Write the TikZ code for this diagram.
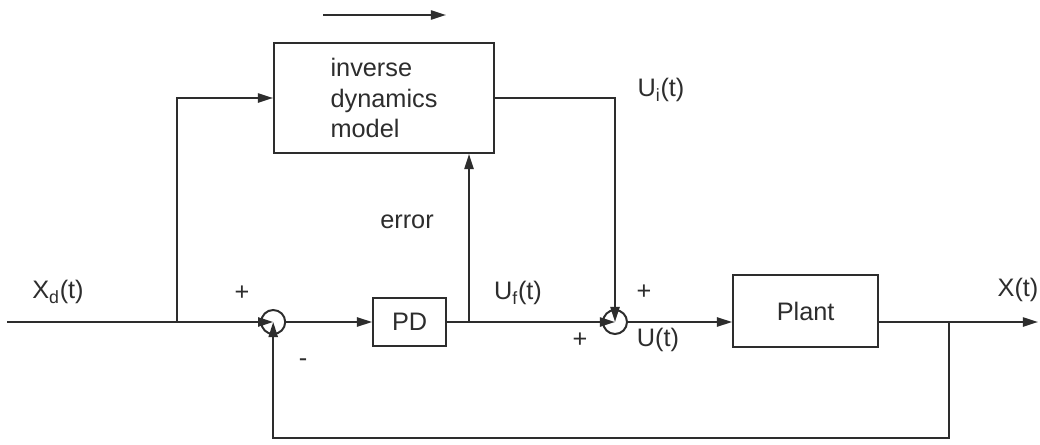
\documentclass[tikz,border=0pt]{standalone}
\usepackage{fontspec}
\setmainfont{Liberation Sans}
\usetikzlibrary{arrows.meta,calc}
\definecolor{inkgray}{RGB}{45,45,45}

\begin{document}
\begin{tikzpicture}[
  x=1cm,y=1cm,
  every node/.style={font=\fontsize{18}{22}\selectfont,text=inkgray},
  block/.style={draw=inkgray,line width=1.4pt,inner sep=0pt},
  junction/.style={circle,draw=inkgray,line width=1.4pt,minimum size=.6cm,inner sep=0pt},
  wire/.style={line width=1.4pt,inkgray},
  signal/.style={wire,-{Triangle[length=3.8mm,width=2.3mm]}}
]
\path[use as bounding box] (0,0) rectangle (26,11.1);
\fill[white] (0,0) rectangle (26,11.1);

% Blocks and summing junctions.
\node[block,minimum width=5.5cm,minimum height=2.75cm,align=left] (idm) at (9.6,8.65) {inverse\\dynamics\\model};
\node[block,minimum width=1.825cm,minimum height=1.2cm] (pd) at (10.24,3.05) {PD};
\node[block,minimum width=3.625cm,minimum height=1.8cm] (plant) at (20.14,3.325) {Plant};
\node[junction] (sum1) at (6.83,3.05) {};
\node[junction] (sum2) at (15.375,3.05) {};

% Branch points and free ends on the main line.
\coordinate (xin) at (.175,3.05);
\coordinate (xsplit) at (4.425,3.05);
\coordinate (usplit) at (11.725,3.05);
\coordinate (ysplit) at (23.725,3.05);
\coordinate (xout) at (25.95,3.05);
\coordinate (fb) at (23.725,.15);
\coordinate (flowa) at (8.075,10.725);
\coordinate (flowb) at (11.15,10.725);

% Forward path.
\draw[wire] (xin)--(xsplit);
\draw[signal] (xsplit)--(sum1.center);
\draw[signal] (sum1.east)--(pd.west);
\draw[signal] (pd.east)--(sum2.center);
\draw[signal] (sum2.east)--(sum2.east -| plant.west);
\draw[wire] (plant.east |- sum2)--(ysplit);
\draw[signal] (ysplit)--(xout);

% Feed-forward through the inverse model, trained by the PD output.
\draw[signal] (xsplit) |- (idm.west);
\draw[signal] (usplit)--(usplit |- idm.south);
\draw[signal] (idm.east) -| (sum2.center);
\draw[signal] (flowa)--(flowb);

% Feedback loop.
\draw[signal] (ysplit)--(fb) -| (sum1.center);

% Signal labels and signs.
\node (xdlab) at (1.45,3.8) {X\textsubscript{d}(t)};
\node (plus1) at (6.05,3.775) {+};
\node (minus1) at (7.575,2.025) {-};
\node (errlab) at (10.175,5.55) {error};
\node (uflab) at (12.95,3.775) {U\textsubscript{f}(t)};
\node (plus2) at (16.1,3.8) {+};
\node (plus3) at (14.5,2.6) {+};
\node (ulab) at (16.45,2.6) {U(t)};
\node (uilab) at (16.525,8.85) {U\textsubscript{i}(t)};
\node (xlab) at (25.45,3.85) {X(t)};
\end{tikzpicture}
\end{document}
